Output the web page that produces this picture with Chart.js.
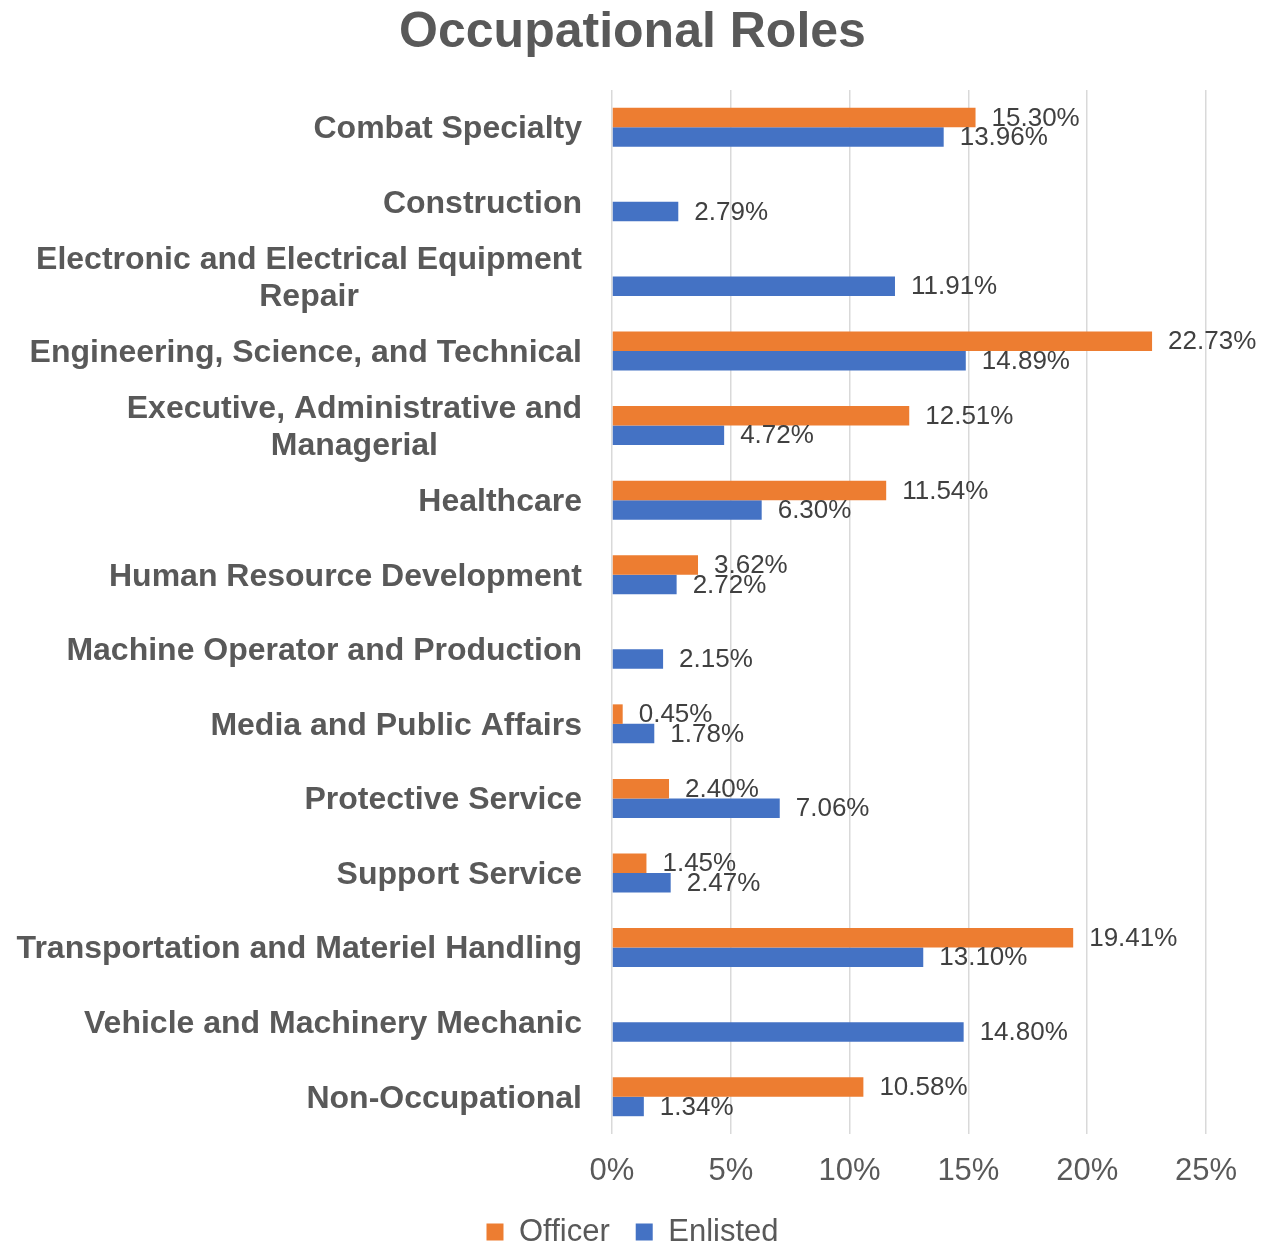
<!DOCTYPE html>
<html>
<head>
<meta charset="utf-8">
<script src="https://cdn.jsdelivr.net/npm/chart.js@4.4.0/dist/chart.umd.min.js"></script>
<style>
  html, body { margin: 0; padding: 0; background: #ffffff; }
  #wrap { width: 1281px; height: 1245px; }
</style>
</head>
<body>
<div id="wrap"><canvas id="myChart"></canvas></div>
<script>
    // categories (multi-line ones as arrays)
    const categories = [
        'Combat Specialty',
        'Construction',
        ['Electronic and Electrical Equipment', 'Repair'],
        'Engineering, Science, and Technical',
        ['Executive, Administrative and', 'Managerial'],
        'Healthcare',
        'Human Resource Development',
        'Machine Operator and Production',
        'Media and Public Affairs',
        'Protective Service',
        'Support Service',
        'Transportation and Materiel Handling',
        'Vehicle and Machinery Mechanic',
        'Non-Occupational'
    ];
    const officerValues = [15.30, null, null, 22.73, 12.51, 11.54, 3.62, null, 0.45, 2.40, 1.45, 19.41, null, 10.58];
    const enlistedValues = [13.96, 2.79, 11.91, 14.89, 4.72, 6.30, 2.72, 2.15, 1.78, 7.06, 2.47, 13.10, 14.80, 1.34];
    const xTicks = [0, 5, 10, 15, 20, 25];

    const FONT = "'Liberation Sans', Arial, sans-serif";
    const GREY = '#595959';

    // category labels, right aligned as a block, lines centered inside it
    const yLabelPlugin = {
        id: 'yLabels',
        afterDraw(chart) {
            const ctx = chart.ctx;
            const yScale = chart.scales.y;
            ctx.save();
            ctx.font = 'bold 32px ' + FONT;
            ctx.fillStyle = GREY;
            ctx.textAlign = 'center';
            ctx.textBaseline = 'middle';
            const right = 582;
            const lh = 37;
            categories.forEach(function (cat, i) {
                const lines = Array.isArray(cat) ? cat : [cat];
                let w = 0;
                lines.forEach(function (l) { w = Math.max(w, ctx.measureText(l).width); });
                const cx = right - w / 2;
                const cy = yScale.getPixelForValue(i) + 2;
                lines.forEach(function (l, k) {
                    ctx.fillText(l, cx, cy + (k - (lines.length - 1) / 2) * lh);
                });
            });
            ctx.restore();
        }
    };

    // value labels at the end of each bar
    const valueLabelPlugin = {
        id: 'valueLabels',
        afterDatasetsDraw(chart) {
            const ctx = chart.ctx;
            ctx.save();
            ctx.font = '26px ' + FONT;
            ctx.fillStyle = '#404040';
            ctx.textAlign = 'left';
            ctx.textBaseline = 'middle';
            chart.data.datasets.forEach(function (ds, di) {
                const meta = chart.getDatasetMeta(di);
                meta.data.forEach(function (bar, i) {
                    const v = ds.data[i];
                    if (v === null || v === undefined) return;
                    ctx.fillText(v.toFixed(2) + '%', bar.x + 16, bar.y + 1);
                });
            });
            ctx.restore();
        }
    };

    const dataChart = {
        labels: categories.map(function (c) { return Array.isArray(c) ? c.join(' ') : c; }),
        datasets: [{
            label: 'Officer',
            data: officerValues,
            backgroundColor: '#ED7D31',
            borderWidth: 0
        }, {
            label: 'Enlisted',
            data: enlistedValues,
            backgroundColor: '#4472C4',
            borderWidth: 0
        }]
    };

    const config = {
        type: 'bar',
        data: dataChart,
        options: {
            indexAxis: 'y',
            responsive: true,
            maintainAspectRatio: false,
            animation: false,
            categoryPercentage: 0.523,
            barPercentage: 1.0,
            layout: { padding: { left: 0, right: 16, top: 0, bottom: -12.5 } },
            scales: {
                x: {
                    min: 0,
                    max: 25,
                    afterBuildTicks: function (scale) {
                        scale.ticks = xTicks.map(function (v) { return { value: v }; });
                    },
                    afterFit: function (scale) { scale.height = 56.5; },
                    grid: { color: '#d9d9d9', lineWidth: 1.5, drawTicks: false },
                    border: { display: false },
                    ticks: {
                        padding: 19,
                        color: GREY,
                        font: { family: FONT, size: 31 },
                        callback: function (v) { return v + '%'; }
                    }
                },
                y: {
                    grid: { display: false },
                    border: { display: false },
                    ticks: { display: false },
                    afterFit: function (scale) { scale.width = 612; }
                },
                yr: {
                    type: 'category',
                    position: 'right',
                    grid: { display: false },
                    border: { display: false },
                    ticks: { display: false },
                    afterFit: function (scale) { scale.width = 59; }
                }
            },
            plugins: {
                title: {
                    display: true,
                    text: 'Occupational Roles',
                    color: GREY,
                    font: { family: FONT, size: 50, weight: 'bold' },
                    padding: { top: 3, bottom: 27 }
                },
                legend: {
                    position: 'bottom',
                    labels: {
                        boxWidth: 17,
                        boxHeight: 17,
                        color: GREY,
                        padding: 26,
                        font: { family: FONT, size: 31 }
                    }
                },
                tooltip: { enabled: false }
            }
        },
        plugins: [yLabelPlugin, valueLabelPlugin]
    };

    let chart = new Chart(document.getElementById('myChart').getContext('2d'), config);
</script>
</body>
</html>
